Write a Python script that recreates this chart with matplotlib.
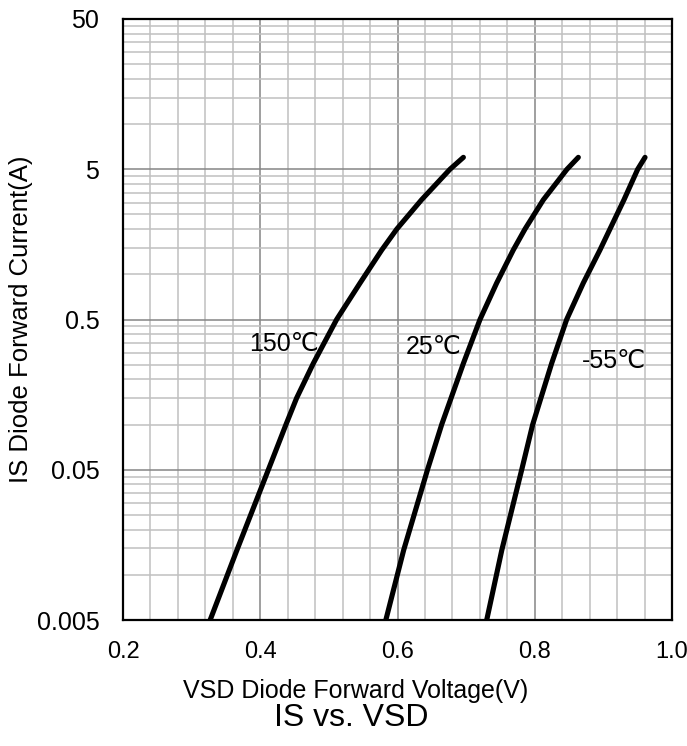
import numpy as np
import matplotlib
matplotlib.use('Agg')
import matplotlib.pyplot as plt
from matplotlib.ticker import FixedLocator, FixedFormatter, NullFormatter

plt.rcParams['font.family'] = ['Liberation Sans', 'DejaVu Sans']

# forward current (A) and voltage (V)
i_150 = [0.005, 0.0146, 0.05, 0.1, 0.15, 0.255, 0.5, 0.874, 1.45, 2.0, 3.13, 5, 6.0]
v_150 = [0.327, 0.366, 0.4118, 0.4375, 0.453, 0.4773, 0.5113, 0.5454, 0.577, 0.599, 0.635, 0.6765, 0.696]
i_25 = [0.005, 0.0146, 0.05, 0.1, 0.255, 0.5, 0.874, 1.45, 2.0, 3.13, 5, 6.0]
v_25 = [0.583, 0.609, 0.6437, 0.6644, 0.696, 0.7202, 0.7445, 0.7687, 0.7858, 0.8125, 0.847, 0.8635]
i_m55 = [0.005, 0.0146, 0.05, 0.1, 0.255, 0.5, 0.874, 1.45, 2.0, 3.13, 5, 6.0]
v_m55 = [0.730, 0.752, 0.781, 0.797, 0.8246, 0.8465, 0.8707, 0.895, 0.9096, 0.930, 0.950, 0.9607]

x_ticks = [0.2, 0.4, 0.6, 0.8, 1.0]
x_labels = ['0.2', '0.4', '0.6', '0.8', '1.0']
y_ticks = [0.005, 0.05, 0.5, 5, 50]
y_labels = ['0.005', '0.05', '0.5', '5', '50']

fig = plt.figure(figsize=(6.87, 7.46), dpi=100)
ax = fig.add_axes([123/687, 1-620/746, 549/687, 601/746])
ax.set_yscale('log')
ax.set_xlim(0.2, 1.0)
ax.set_ylim(0.005, 50)

ax.xaxis.set_major_locator(FixedLocator(x_ticks))
ax.xaxis.set_major_formatter(FixedFormatter(x_labels))
ax.xaxis.set_minor_locator(FixedLocator(np.arange(0.24, 1.0, 0.04)))
ax.yaxis.set_major_locator(FixedLocator(y_ticks))
ax.yaxis.set_major_formatter(FixedFormatter(y_labels))
yminor = [d*k for d in [0.005, 0.05, 0.5, 5] for k in range(2, 10)]
ax.yaxis.set_minor_locator(FixedLocator(yminor))
ax.yaxis.set_minor_formatter(NullFormatter())

ax.grid(which='minor', color='#c0c0c0', linewidth=1.1)
ax.grid(which='major', color='#858585', linewidth=1.1)
ax.set_axisbelow(True)
ax.tick_params(which='both', length=0)
ax.tick_params(axis='x', labelsize=17, pad=15)
ax.tick_params(axis='y', labelsize=18, pad=17)
for s in ax.spines.values():
    s.set_linewidth(1.6)
    s.set_color('black')

for v, i in [(v_150, i_150), (v_25, i_25), (v_m55, i_m55)]:
    ax.plot(v, i, color='black', linewidth=3.7, solid_capstyle='round')

ax.text(0.3845, 0.345, '150℃', fontsize=18, va='center', ha='left')
ax.text(0.6126, 0.33, '25℃', fontsize=18, va='center', ha='left')
ax.text(0.8685, 0.265, '-55℃', fontsize=18, va='center', ha='left')

ax.set_ylabel('IS Diode Forward Current(A)', fontsize=18.5)
ax.yaxis.set_label_coords((33-123)/549, 0.5)
fig.text(356/687, 1-691/746, 'VSD Diode Forward Voltage(V)', fontsize=18,
         ha='center', va='center')
fig.text(351/687, 1-718/746, 'IS vs. VSD', fontsize=23, ha='center', va='center')

fig.savefig('out.png', dpi=100)
